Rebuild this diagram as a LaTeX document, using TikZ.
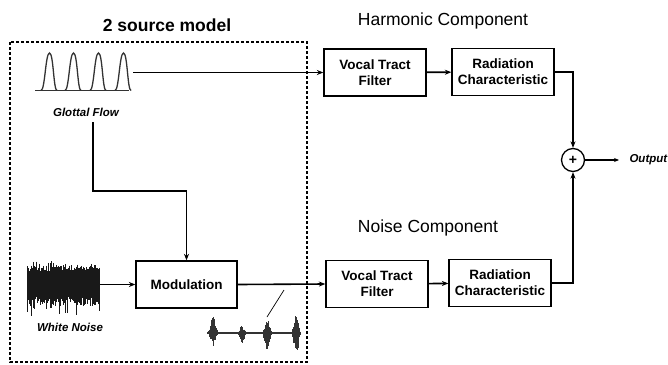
\documentclass[tikz,border=0pt]{standalone}
\usepackage{fontspec}
\setmainfont{Liberation Sans}
\usetikzlibrary{arrows.meta}
\begin{document}
\begin{tikzpicture}[x=1pt,y=-1pt,
  blk/.style={draw, line width=1.3pt, minimum width=102pt, minimum height=47pt, align=center,
    font=\fontsize{13.5}{16}\selectfont\bfseries, inner sep=1pt},
  arr/.style={line width=1.6pt, -{Stealth[length=6.5pt,width=5pt]}},
  lbl/.style={font=\fontsize{11.5}{13}\selectfont\bfseries\itshape},
  wave/.style={line width=1.3pt, black!80}]
\useasboundingbox (0,0) rectangle (668,364);
% dashed source box
\draw[line width=1.5pt, dash pattern=on 3pt off 2pt] (10,42) rectangle (307,362);
% titles
\node[font=\fontsize{17.5}{19}\selectfont\bfseries] (title) at (167,25) {2 source model};
\node[font=\fontsize{17.5}{19}\selectfont] (harm) at (443,21) {Harmonic Component};
\node[font=\fontsize{17.5}{19}\selectfont] (noisec) at (428,228) {Noise Component};
% glottal flow waveform
\draw[wave] (35,90.5) -- (129,90.5);
\foreach \c in {50,74,99,124}{
  \draw[wave] (\c-9,90.5) .. controls (\c-5,90.5) and (\c-4.5,53) .. (\c-0.5,53)
     .. controls (\c+3.5,53) and (\c+3.5,90.5) .. (\c+7,90.5);
}
\node[lbl] (gtext) at (86,112) {Glottal Flow};
% white noise
\pgfmathsetseed{7}
\foreach \i in {0,...,160}{
  \pgfmathsetmacro\xx{27+\i*0.45}
  \pgfmathsetmacro\up{11+8*rnd+5*(rnd>0.93)}
  \pgfmathsetmacro\dn{12+10*rnd+10*(rnd>0.94)}
  \draw[line width=0.55pt, black!90] (\xx,284-\up) -- (\xx,284+\dn);
}
\node[lbl] (wtext) at (70,327) {White Noise};
% blocks
\node[blk, minimum width=101pt] (mod) at (186.5,284.5) {Modulation};
\node[blk] (hvtf) at (375,72.5) {Vocal Tract\\Filter};
\node[blk] (hrc) at (503,72) {Radiation\\Characteristic};
\node[blk] (nvtf) at (377,284) {Vocal Tract\\Filter};
\node[blk] (nrc) at (500,283) {Radiation\\Characteristic};
\node[circle, draw, line width=1.3pt, minimum size=23pt, inner sep=0pt,
  font=\fontsize{14}{14}\selectfont\bfseries] (sum) at (573,160) {+};
\node[lbl, anchor=west] (otext) at (626,160) {Output};
% coordinates
\coordinate (gout) at (133,72.5);
\coordinate (gdown) at (93,122);
\coordinate (gbend) at (93,191);
\coordinate (wn) at (100,284.5);
\coordinate (outc) at (619,160);
% connectors
\draw[arr] (gout) -- (hvtf.west);
\draw[arr] (hvtf) -- (hrc);
\draw[arr] (hrc.east) -| (sum.north);
\draw[arr] (gdown) -- (gbend) -| (mod.north);
\draw[arr] (wn) -- (mod.west);
\draw[arr] (mod.east) -- (nvtf.west);
\draw[arr] (nvtf) -- (nrc);
\draw[arr] (nrc.east) -| (sum.south);
\draw[line width=1.1pt, -{Stealth[length=5pt,width=4pt]}] (sum.east) -- (outc);
% modulated noise
\draw[line width=1.2pt, black!80] (207,333) -- (300,333);
\foreach \c/\A/\B/\w in {213/20/15/9, 242/9/12/8, 267/17/19/9, 296/21/25/8}{
  \foreach \j in {0,...,18}{
    \pgfmathsetmacro\xx{\c-\w/2+\j*\w/18}
    \pgfmathsetmacro\env{1-abs(\j-9)/10}
    \pgfmathsetmacro\up{\A*\env*(0.4+0.6*rnd)}
    \pgfmathsetmacro\dn{\B*\env*(0.4+0.6*rnd)}
    \draw[line width=0.5pt, black!80] (\xx,333-\up) -- (\xx,333+\dn);
  }
}
\coordinate (ptA) at (267,317);
\coordinate (ptB) at (284,290);
\draw[line width=0.7pt] (ptA) -- (ptB);
\end{tikzpicture}
\end{document}
